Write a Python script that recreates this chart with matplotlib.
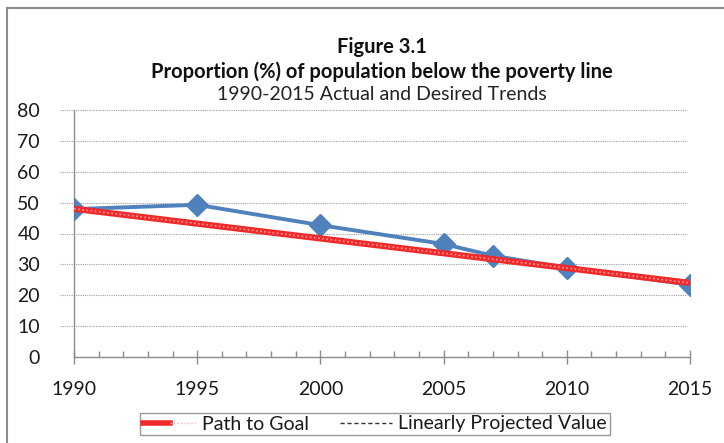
import numpy as np
import matplotlib
matplotlib.use("Agg")
import matplotlib.pyplot as plt
from matplotlib.lines import Line2D
from matplotlib.legend_handler import HandlerTuple

plt.rcParams['font.family'] = ['Lato', 'DejaVu Sans']

# actual values
actual_years = [1990, 1995, 2000, 2005, 2007, 2010, 2015]
actual_values = [47.9, 49.3, 42.7, 36.6, 32.8, 28.9, 23.4]

# path to goal: halve the 1990 value by 2015
goal_years = [1990, 2015]
goal_values = [48.0, 24.0]

x_ticks = [1990, 1995, 2000, 2005, 2010, 2015]
y_ticks = [0, 10, 20, 30, 40, 50, 60, 70, 80]

title_lines = ["Figure 3.1",
               "Proportion (%) of population below the poverty line",
               "1990-2015 Actual and Desired Trends"]
legend_labels = ["Path to Goal", "Linearly Projected Value"]

blue = '#4F81BD'
red = '#F02A2A'
txt = '#1A1A1A'

fig = plt.figure(figsize=(7.24, 4.43), dpi=100)
ax = fig.add_axes([74 / 724, 1 - 357 / 443, (690 - 74) / 724, (357 - 110) / 443])

# dotted gridlines, running a little past the left spine
for v in y_ticks[1:]:
    ax.axhline(v, xmin=-0.023, xmax=0.995, color='#A0A0A0', lw=0.8,
               ls=(0, (1, 1)), clip_on=False, zorder=1)

# actual trend
ax.plot(actual_years, actual_values, color=blue, lw=2.8, marker='D',
        markersize=11.5, markeredgecolor=blue, zorder=3)

# path to goal, red with a light dotted texture
ax.plot(goal_years, goal_values, color=red, lw=4.5, solid_capstyle='butt', zorder=4)
ax.plot(goal_years, goal_values, color='#FFB0B0', lw=1.2, ls=(0, (1, 1.5)),
        alpha=0.8, zorder=5)

ax.set_xlim(1990, 2015)
ax.set_ylim(0, 80)
ax.set_xticks(x_ticks)
ax.set_xticks(np.arange(1990, 2016), minor=True)
ax.set_yticks(y_ticks)

for side in ['top', 'right']:
    ax.spines[side].set_visible(False)
for side in ['left', 'bottom']:
    ax.spines[side].set_color('#8C8C8C')
    ax.spines[side].set_linewidth(1)

ax.tick_params(axis='x', which='major', direction='inout', length=10, width=1,
               color='#8C8C8C', labelsize=14, pad=12, labelcolor=txt)
ax.tick_params(axis='x', which='minor', direction='in', length=4, width=1,
               color='#8C8C8C')
ax.tick_params(axis='y', which='major', direction='out', length=0, width=1,
               color='#8C8C8C', labelsize=14, pad=24.5, labelcolor=txt)

# titles
cx = (74 + 690) / 2 / 724
fig.text(cx, 1 - 47 / 443, title_lines[0], ha='center', va='center',
         fontsize=14.5, fontweight='bold', color='#111111')
fig.text(cx, 1 - 72 / 443, title_lines[1], ha='center', va='center',
         fontsize=14.5, fontweight='bold', color='#111111')
fig.text(cx, 1 - 95 / 443, title_lines[2], ha='center', va='center',
         fontsize=14, color='#222222')

# outer frame (left and top sides visible in the picture)
fig.add_artist(Line2D([7 / 724, 7 / 724], [0, 1 - 8 / 443], transform=fig.transFigure,
                      color='#8C8C8C', lw=1.5))
fig.add_artist(Line2D([7 / 724, 1], [1 - 8 / 443, 1 - 8 / 443], transform=fig.transFigure,
                      color='#8C8C8C', lw=1.5))

# legend
h_red = Line2D([], [], color=red, lw=4)
h_tex = Line2D([], [], color='#FFB0B0', lw=1, ls=(0, (1, 1.5)))
h_dash = Line2D([], [], color='#333333', lw=1, ls=(0, (3, 2)))
leg = fig.legend([(h_red, h_tex), h_dash], legend_labels,
                 handler_map={tuple: HandlerTuple(ndivide=None, pad=0)},
                 loc='center', bbox_to_anchor=(375 / 724, 1 - 424 / 443),
                 ncol=2, fontsize=14, frameon=True, fancybox=False,
                 handlelength=2.7, handletextpad=0.3, columnspacing=1.6,
                 borderpad=0.15, borderaxespad=0, labelcolor=txt)
leg.get_frame().set_edgecolor('#808080')
leg.get_frame().set_linewidth(1)

fig.savefig('out.png', dpi=100)
